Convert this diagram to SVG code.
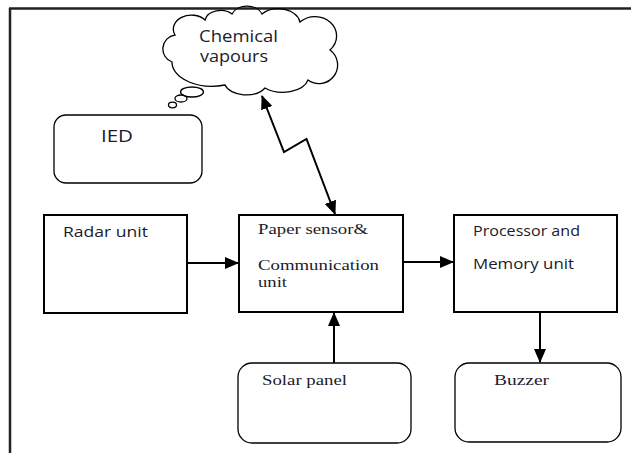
<svg xmlns="http://www.w3.org/2000/svg" width="631" height="453" viewBox="0 0 631 453">
<style>
.box{fill:#fff;stroke:#000;stroke-width:2}
.rbox{fill:#fff;stroke:#000;stroke-width:1.3}
.sans{font-family:"Open Sans","Liberation Sans",sans-serif;fill:#1b1b2b}
.serif{font-family:"Liberation Serif","DejaVu Serif",serif;fill:#1b1b2b}
.conn{stroke:#000;stroke-width:2;fill:none}
.thin{stroke:#000;stroke-width:1.3;fill:none}
</style>
<defs>
<marker id="ah2" markerWidth="14" markerHeight="14" refX="13" refY="7" orient="auto-start-reverse" markerUnits="userSpaceOnUse" viewBox="0 0 14 14">
<path d="M0,1 L14,7 L0,13 Z" fill="#000"/>
</marker>
</defs>
<rect width="631" height="453" fill="#fff"/>
<g id="frame">
<line x1="9" y1="8.5" x2="631" y2="8.5" stroke="#222" stroke-width="2.5"/>
<line x1="10" y1="8" x2="10" y2="453" stroke="#222" stroke-width="2.5"/>
</g>
<g id="cloud">
<path class="thin" d="M172,62 A14,14 0 0 1 175,35 A18,14 0 0 1 205,20 A16,12 0 0 1 232,14 A16,12 0 0 1 262,14 A22,16 0 0 1 300,22 A20,18 0 0 1 330,50 A18,18 0 0 1 308,80 A26,16 0 0 1 265,88 A22,14 0 0 1 225,85 A40,24 0 0 1 172,62 Z"/>
<ellipse class="thin" cx="192" cy="92" rx="11.5" ry="5"/>
<ellipse class="thin" cx="181" cy="98.5" rx="6" ry="3.5"/>
<ellipse class="thin" cx="172.5" cy="105" rx="4" ry="2.8"/>
<text class="sans" x="199" y="42" font-size="15.5" textLength="79" lengthAdjust="spacingAndGlyphs">Chemical</text>
<text class="sans" x="200" y="62" font-size="15.5" textLength="68" lengthAdjust="spacingAndGlyphs">vapours</text>
</g>
<g id="ied">
<rect class="rbox" x="54" y="115" width="148" height="68" rx="12"/>
<text class="sans" x="101" y="141.5" font-size="17" textLength="32" lengthAdjust="spacingAndGlyphs">IED</text>
</g>
<g id="radar">
<rect class="box" x="44" y="215" width="143" height="98"/>
<text class="sans" x="63" y="237" font-size="14.5" textLength="85" lengthAdjust="spacingAndGlyphs">Radar unit</text>
</g>
<g id="paper">
<rect class="box" x="239" y="215" width="164" height="97"/>
<text class="serif" x="258" y="234" font-size="15.5" textLength="110" lengthAdjust="spacingAndGlyphs">Paper sensor&amp;</text>
<text class="serif" x="258" y="270" font-size="15.5" textLength="121" lengthAdjust="spacingAndGlyphs">Communication</text>
<text class="serif" x="258" y="287" font-size="15.5" textLength="29" lengthAdjust="spacingAndGlyphs">unit</text>
</g>
<g id="processor">
<rect class="box" x="454" y="215" width="163" height="97"/>
<text class="sans" x="473" y="236" font-size="14.5" textLength="107" lengthAdjust="spacingAndGlyphs">Processor and</text>
<text class="sans" x="473" y="269" font-size="14.5" textLength="101" lengthAdjust="spacingAndGlyphs">Memory unit</text>
</g>
<g id="solar">
<rect class="rbox" x="238" y="363" width="173" height="80" rx="14"/>
<text class="serif" x="262" y="385" font-size="15.5" textLength="85" lengthAdjust="spacingAndGlyphs">Solar panel</text>
</g>
<g id="buzzer">
<rect class="rbox" x="455" y="363" width="166" height="79" rx="14"/>
<text class="serif" x="494" y="385" font-size="15.5" textLength="55" lengthAdjust="spacingAndGlyphs">Buzzer</text>
</g>
<g id="connectors">
<line class="conn" x1="187" y1="263" x2="238" y2="263" marker-end="url(#ah2)"/>
<line class="conn" x1="403" y1="262" x2="453" y2="262" marker-end="url(#ah2)"/>
<line class="conn" x1="540" y1="312" x2="540" y2="362" marker-end="url(#ah2)"/>
<line class="conn" x1="334" y1="363" x2="334" y2="313" marker-end="url(#ah2)"/>
<polyline class="conn" points="262,96 284,152 306.5,139 335,214" marker-start="url(#ah2)" marker-end="url(#ah2)"/>
</g>
</svg>
